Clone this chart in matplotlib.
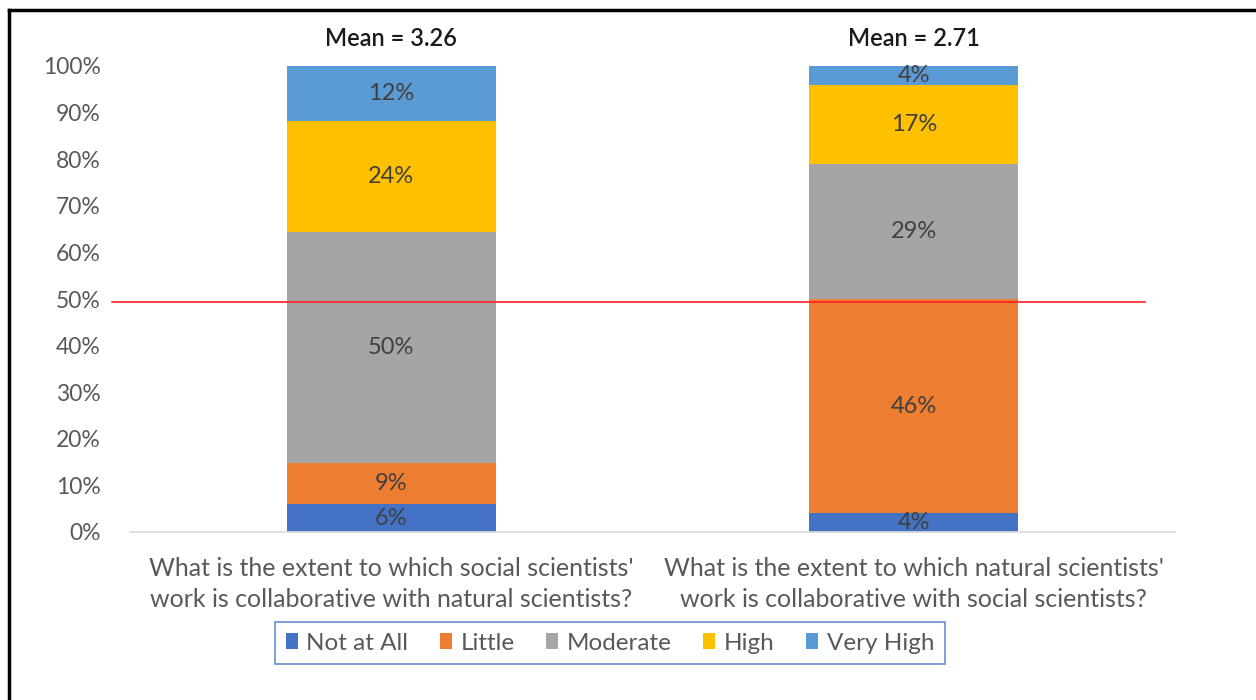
import numpy as np
import matplotlib
matplotlib.use("Agg")
import matplotlib.pyplot as plt
from matplotlib.patches import Patch
from matplotlib.lines import Line2D

plt.rcParams['font.family'] = ['Lato', 'DejaVu Sans']

# ---------------- data ----------------
questions = ["What is the extent to which social scientists'\nwork is collaborative with natural scientists?",
             "What is the extent to which natural scientists'\nwork is collaborative with social scientists?"]
levels = ["Not at All", "Little", "Moderate", "High", "Very High"]
not_at_all = [6, 4]
little = [9, 46]
moderate = [50, 29]
high = [24, 17]
very_high = [12, 4]
means = ["Mean = 3.26", "Mean = 2.71"]
ref_line = 49.3

colors = ["#4472C4", "#ED7D31", "#A5A5A5", "#FFC000", "#5B9BD5"]
series = [not_at_all, little, moderate, high, very_high]

fig = plt.figure(figsize=(12.56, 7), dpi=100)
ax = fig.add_axes([130/1256, 1-532/700, 1045/1256, 466/700])

x = np.arange(len(questions))
vals = np.array(series, dtype=float)
totals = vals.sum(axis=0)
pct = vals / totals * 100  # 100% stacked like excel

bottom = np.zeros(len(questions))
for i, lvl in enumerate(levels):
    ax.bar(x, pct[i], 0.4, bottom=bottom, color=colors[i], label=lvl, zorder=2)
    for j in range(len(questions)):
        ax.text(x[j], bottom[j] + pct[i][j]/2, f"{series[i][j]}%", ha='center', va='center',
                fontsize=17, color='#404040', zorder=3)
    bottom += pct[i]

for j in range(len(questions)):
    ax.text(x[j], 103.5, means[j], ha='center', va='bottom', fontsize=17, color='#1a1a1a',
            fontweight='semibold')

ax.set_xlim(-0.5, 1.5)
ax.set_ylim(0, 100)
ax.set_yticks(range(0, 101, 10))
ax.set_yticklabels([f"{v}%" for v in range(0, 101, 10)], fontsize=16.5, color='#595959')
ax.set_xticks(x)
ax.set_xticklabels(questions, fontsize=18, color='#595959', linespacing=1.4)
ax.tick_params(axis='both', length=0)
ax.tick_params(axis='y', pad=21)
ax.tick_params(axis='x', pad=18)
for s in ['top', 'right', 'left']:
    ax.spines[s].set_visible(False)
ax.spines['bottom'].set_color('#D9D9D9')
ax.spines['bottom'].set_linewidth(1.2)

# red reference line
ax.plot([-0.534, 1.443], [ref_line, ref_line], color='#FF2020', lw=1.2, clip_on=False, zorder=4)

handles = [Patch(facecolor=c, edgecolor='none') for c in colors]
leg = fig.legend(handles, levels, loc='center', bbox_to_anchor=(610/1256, 1-643/700), ncol=5,
                 fontsize=17.5, frameon=True, fancybox=False, handlelength=0.5, handleheight=0.6,
                 handletextpad=0.35, columnspacing=1.3, borderpad=0.45)
for t in leg.get_texts():
    t.set_color('#595959')
leg.get_frame().set_edgecolor('#4472C4')
leg.get_frame().set_linewidth(1.2)

# outer frame
fig.add_artist(Line2D([9/1256, 1.0], [1-10/700, 1-10/700], color='black', lw=2.5))
fig.add_artist(Line2D([9/1256, 9/1256], [0, 1-10/700], color='black', lw=2.5))

fig.savefig("out.png", dpi=100)
